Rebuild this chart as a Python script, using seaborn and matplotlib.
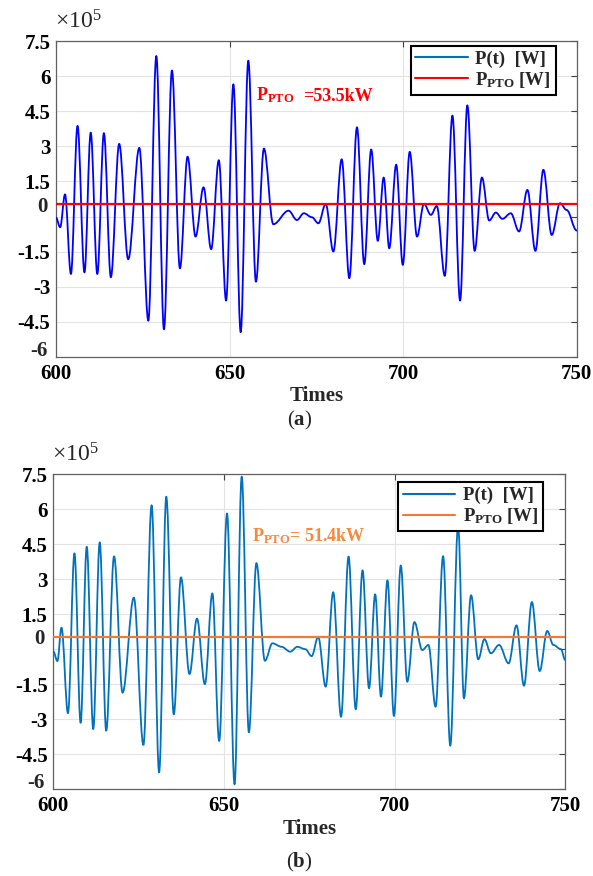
import numpy as np
import pandas as pd
import matplotlib
matplotlib.use("Agg")
import matplotlib.pyplot as plt
import seaborn as sns
from matplotlib.path import Path
from matplotlib.patches import PathPatch
from matplotlib.lines import Line2D

# ---------------- data (power in units of 1e5 W) ----------------
t_a = [600.0, 601.2, 602.6, 604.3, 606.2, 608.2, 610.0, 611.9, 613.8, 615.8,
       618.2, 620.8, 624.0, 626.6, 628.9, 631.1, 633.4, 635.7, 637.9, 640.2,
       642.5, 644.7, 646.9, 649.0, 651.1, 653.2, 655.4, 657.6, 659.9, 662.6,
       667.0, 669.4, 671.4, 673.7, 675.6, 677.7, 679.9, 682.3, 684.5, 686.7,
       688.8, 690.8, 692.7, 694.4, 696.0, 698.0, 699.9, 701.9, 704.0, 706.0,
       708.0, 709.7, 712.0, 714.2, 716.4, 718.5, 720.6, 722.7, 724.8, 726.7,
       728.6, 731.0, 733.4, 735.8, 738.1, 740.4, 742.8, 745.2, 747.1, 750.0]
p_a = [-0.05, -0.46, 0.95, -2.46, 3.88, -2.39, 3.59, -2.46, 3.57, -2.60,
       3.11, -1.83, 2.94, -4.46, 6.87, -4.83, 6.25, -2.22, 2.56, -0.86,
       1.25, -1.40, 2.41, -3.60, 5.66, -4.95, 6.67, -2.79, 2.91, -0.33,
       0.25, -0.15, 0.14, -0.03, -0.29, 0.54, -1.50, 2.45, -2.64, 3.82,
       -2.04, 2.87, -1.04, 1.67, -1.36, 2.22, -2.07, 2.77, -0.86, 0.54,
       0.07, 0.45, -2.54, 4.32, -3.60, 4.76, -1.47, 1.67, -0.17, 0.17,
       -0.10, 0.14, -0.64, 1.14, -1.47, 2.00, -0.79, 0.57, 0.28, -0.60]
pto_a = 0.535   # 53.5 kW

t_b = [600.0, 601.2, 602.4, 604.3, 606.2, 608.0, 609.8, 611.7, 613.6, 615.5,
       617.8, 620.3, 623.6, 626.4, 628.8, 631.0, 633.1, 635.3, 637.4, 639.9,
       642.1, 644.4, 646.6, 648.6, 650.9, 653.1, 655.2, 657.3, 659.5, 662.0,
       664.2, 666.9, 669.4, 671.5, 673.8, 675.7, 677.6, 679.8, 682.0, 684.3,
       686.5, 688.6, 690.6, 692.5, 694.3, 696.0, 697.9, 699.8, 701.8, 703.7,
       705.8, 708.1, 709.9, 712.0, 714.2, 716.3, 718.6, 720.3, 722.4, 724.5,
       726.3, 728.2, 730.6, 733.4, 735.7, 737.9, 740.2, 742.5, 744.7, 746.5,
       748.7, 750.0]
p_b = [-0.10, -0.51, 0.92, -2.75, 4.11, -3.16, 4.39, -3.43, 4.58, -3.50,
       3.98, -1.87, 2.21, -4.11, 6.17, -5.29, 6.54, -2.80, 3.08, -1.07,
       1.31, -1.50, 2.39, -3.94, 5.82, -5.80, 7.40, -3.57, 3.69, -0.50,
       0.25, 0.10, -0.11, 0.10, 0.00, -0.30, 0.53, -1.61, 2.44, -2.90,
       3.97, -2.58, 3.38, -1.68, 2.35, -2.04, 2.95, -2.87, 3.59, -1.40,
       1.16, -0.04, 0.18, -2.47, 3.99, -4.14, 5.30, -2.11, 2.31, -0.44,
       0.43, -0.18, 0.18, -0.61, 1.02, -1.57, 2.02, -0.94, 0.78, 0.18,
       0.00, -0.47]
pto_b = 0.514   # 51.4 kW

x_ticks = [600, 650, 700, 750]
y_ticks = [-6, -4.5, -3, -1.5, 0, 1.5, 3, 4.5, 6, 7.5]
y_tick_labels = ["", "-4.5", "-3", "-1.5", "", "1.5", "3", "4.5", "6", "7.5"]
# labels drawn with a small vertical shift, as in the original figure
shifted_labels = [("0", 0, 7), ("-6", -6, 4)]

# ---------------- style ----------------
sns.set_style("white")
plt.rcParams['font.family'] = ['Liberation Serif', 'DejaVu Serif']
plt.rcParams['mathtext.fontset'] = 'custom'
plt.rcParams['mathtext.rm'] = 'Liberation Serif'
plt.rcParams['mathtext.bf'] = 'Liberation Serif:bold'
plt.rcParams['mathtext.it'] = 'Liberation Serif:italic'

fig = plt.figure(figsize=(5.93, 8.76), dpi=100)
ax_a = fig.add_axes([56 / 593, 1 - 356.7 / 876, 520.7 / 593, 315.4 / 876])
ax_b = fig.add_axes([53.3 / 593, 1 - 789 / 876, 512 / 593, 314.7 / 876])


def smooth_signal(ax, t, v, color, lw=1.3):
    """Draw the signal through its extrema with smooth Bezier segments."""
    verts = [(t[0], v[0])]
    codes = [Path.MOVETO]
    for i in range(len(t) - 1):
        dt = t[i + 1] - t[i]
        verts += [(t[i] + 0.36 * dt, v[i]), (t[i + 1] - 0.36 * dt, v[i + 1]),
                  (t[i + 1], v[i + 1])]
        codes += [Path.CURVE4] * 3
    ax.add_patch(PathPatch(Path(verts, codes), facecolor='none',
                           edgecolor=color, lw=lw, zorder=3,
                           capstyle='round', joinstyle='round'))


def style_axes(ax):
    ax.set_xlim(600, 750)
    ax.set_ylim(-6, 7.5)
    ax.set_xticks(x_ticks)
    ax.set_xticklabels([str(v) for v in x_ticks], fontweight='bold')
    ax.set_yticks(y_ticks)
    ax.set_yticklabels(y_tick_labels, fontweight='bold')
    ax.tick_params(axis='both', direction='in', length=4, width=0.8,
                   top=True, right=True, labelsize=15, colors='#404040',
                   labelcolor='black')
    ax.tick_params(axis='x', pad=5)
    ax.tick_params(axis='y', pad=4)
    ax.grid(True, color='#e3e3e3', lw=0.8)
    ax.set_axisbelow(True)
    for s in ax.spines.values():
        s.set_color('#606060')
        s.set_linewidth(0.9)
    ax.set_xlabel("Times", fontsize=15, fontweight='bold', labelpad=2)
    ax.set_ylabel("")
    for lab, yv, dy in shifted_labels:
        ax.annotate(lab, xy=(0, yv), xycoords=('axes fraction', 'data'),
                    xytext=(-6, dy), textcoords='offset points', ha='right',
                    va='center', fontsize=15, fontweight='bold')
    ax.text(-0.002, 1.025, r"$\times10^{5}$", transform=ax.transAxes,
            fontsize=17, ha='left', va='bottom')


# ---------------- panel (a) ----------------
smooth_signal(ax_a, t_a, p_a, '#0000FF')
sns.lineplot(x=[600, 750], y=[pto_a, pto_a], ax=ax_a, color='#FF0000',
             lw=1.6, zorder=4)
style_axes(ax_a)
ax_a.text(657.6, 4.96, r"$\mathbf{P_{PTO}}$", color='#FF0000', fontsize=13,
          va='baseline')
ax_a.text(671.1, 4.96, "=53.5kW", color='#FF0000', fontsize=13,
          fontweight='bold', va='baseline')
h_a = [Line2D([], [], color='#0072BD', lw=1.5),
       Line2D([], [], color='#FF0000', lw=1.5)]
leg_a = ax_a.legend(h_a, ["P(t)  [W]", r"$\mathbf{P_{PTO}}$ [W]"],
                    loc='upper right', bbox_to_anchor=(0.9597, 0.985),
                    borderaxespad=0, fancybox=False, framealpha=1,
                    edgecolor='black', handlelength=2.8, handletextpad=0.4,
                    borderpad=0.25, labelspacing=0.1,
                    prop={'weight': 'bold', 'size': 13.5})
leg_a.get_frame().set_linewidth(1.5)
leg_a.set_zorder(10)

# ---------------- panel (b) ----------------
smooth_signal(ax_b, t_b, p_b, '#0072BD')
sns.lineplot(x=[600, 750], y=[pto_b, pto_b], ax=ax_b, color='#F07A38',
             lw=1.6, zorder=4)
style_axes(ax_b)
ax_b.text(658.1, 4.61, r"$\mathbf{P_{PTO}}$= 51.4kW", color='#F5893E',
          fontsize=13, fontweight='bold', va='baseline')
h_b = [Line2D([], [], color='#0072BD', lw=1.5),
       Line2D([], [], color='#F07A38', lw=1.5)]
leg_b = ax_b.legend(h_b, ["P(t)  [W]", r"$\mathbf{P_{PTO}}$ [W]"],
                    loc='upper right', bbox_to_anchor=(0.957, 0.9746),
                    borderaxespad=0, fancybox=False, framealpha=1,
                    edgecolor='black', handlelength=2.8, handletextpad=0.4,
                    borderpad=0.25, labelspacing=0.1,
                    prop={'weight': 'bold', 'size': 13.5})
leg_b.get_frame().set_linewidth(1.5)
leg_b.set_zorder(10)

# ---------------- panel captions ----------------
fig.text(0.505, 1 - 420 / 876, r"($\mathbf{a}$)", ha='center', va='center',
         fontsize=15)
fig.text(0.505, 1 - 862 / 876, r"($\mathbf{b}$)", ha='center', va='center',
         fontsize=15)

fig.savefig("out.png", dpi=100)
